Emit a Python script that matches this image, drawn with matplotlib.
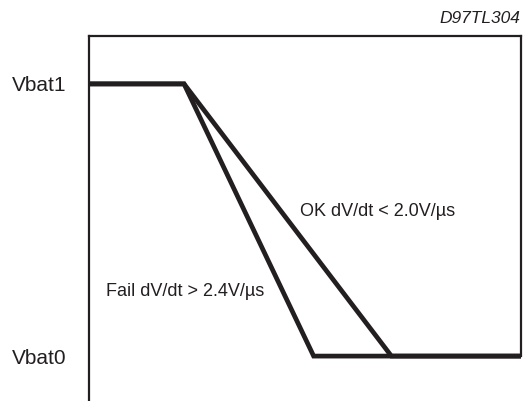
import matplotlib
matplotlib.use("Agg")
import matplotlib.pyplot as plt

plt.rcParams['font.family'] = ['Liberation Sans', 'DejaVu Sans']

# Data (time in arbitrary units, voltage normalised: Vbat0 = 0, Vbat1 = 1)
level_labels = ["Vbat0", "Vbat1"]
level_values = [0.0, 1.0]
fail_t = [0.0, 2.2, 5.2, 10.0]
fail_v = [1.0, 1.0, 0.0, 0.0]
ok_t = [0.0, 2.2, 7.0, 10.0]
ok_v = [1.0, 1.0, 0.0, 0.0]
ok_label = "OK dV/dt < 2.0V/\u00b5s"
fail_label = "Fail dV/dt > 2.4V/\u00b5s"
code_label = "D97TL304"

W, H = 523, 401
fig = plt.figure(figsize=(W / 100, H / 100), dpi=100)
left, right, top, bottom = 89, 521, 36, 401
ax = fig.add_axes([left / W, 1 - bottom / H, (right - left) / W, (bottom - top) / H])

col = '#231f20'
ax.plot(ok_t, ok_v, color=col, lw=3.4, solid_joinstyle='miter', solid_capstyle='butt', clip_on=False)
ax.plot(fail_t, fail_v, color=col, lw=3.4, solid_joinstyle='miter', solid_capstyle='butt', clip_on=False)

ax.set_xlim(0, 10)
ymax = 1.176
ax.set_ylim(-0.165, ymax)

for s in ['left', 'top', 'right']:
    ax.spines[s].set_linewidth(1.6)
    ax.spines[s].set_color(col)
ax.spines['bottom'].set_visible(False)
ax.spines['right'].set_bounds(0, ymax)

ax.set_xticks([])
ax.set_yticks(level_values)
ax.set_yticklabels(level_labels, fontsize=15, color=col)
ax.tick_params(axis='y', length=0, pad=16)

ax.text(4.88, 0.516, ok_label, fontsize=13, color=col, ha='left', va='baseline')
ax.text(0.39, 0.222, fail_label, fontsize=13, color=col, ha='left', va='baseline')

fig.text(520 / W, 1 - 23.3 / H, code_label, fontsize=12.5, style='italic', color=col,
         ha='right', va='baseline')

fig.savefig("out.png", dpi=100)
